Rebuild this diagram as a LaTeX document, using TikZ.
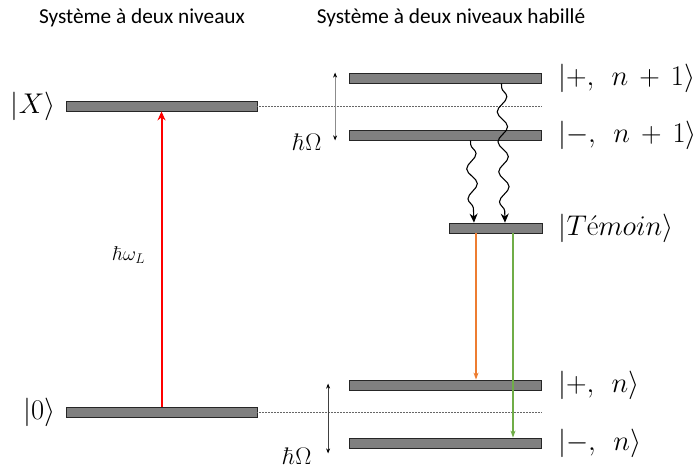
\RequirePackage{fix-cm}
\documentclass[tikz,border=0pt]{standalone}
\usepackage[no-math]{fontspec}
\setmainfont{Carlito}
\usetikzlibrary{positioning,decorations.pathmorphing,arrows.meta}
\definecolor{decayorange}{HTML}{ED7D31}
\definecolor{decaygreen}{HTML}{70AD47}
\definecolor{laserred}{HTML}{FF0000}
\newcommand{\wideket}{\medmuskip=7mu\relax\thickmuskip=8mu\relax}
\tikzset{
  level/.style={draw=black!85, fill=black!50, line width=0.8pt, minimum height=10pt, inner sep=0pt},
  ket/.style={font=\fontsize{28.5}{31}\selectfont\wideket, inner sep=0pt},
  title/.style={font=\fontsize{21.3}{24}\selectfont},
  gap/.style={draw=black!60, densely dotted, line width=0.5pt},
  split/.style={{Stealth[length=5pt,width=4pt,black]}-{Stealth[length=5pt,width=4pt,black]}, line width=0.6pt},
  wave/.style={-{Stealth[length=9pt,width=8pt]}, line width=1.1pt, decorate,
    decoration={snake, amplitude=5pt, segment length=30pt, pre length=4pt, post length=10pt}},
  decay/.style={-{Stealth[length=7pt,width=5pt]}, line width=1.4pt},
}
\begin{document}
\begin{tikzpicture}[x=1pt, y=-1pt]
\useasboundingbox (0,0) rectangle (696,470);

% Titles
\node[title] (title2) at (142,18) {Système à deux niveaux};
\node[title] (title3) at (451,18) {Système à deux niveaux habillé};

% Two-level system
\node[level, minimum width=191pt] (X) at (161.5,106) {};
\node[level, minimum width=191pt] (zero) at (161.5,412) {};
\node[ket, left=10pt of X] (Xket) {$|X\rangle$};
\node[ket, left=10pt of zero] (zeroket) {$|0\rangle$};

% Dressed system
\node[level, minimum width=192pt] (p1) at (445.5,78) {};
\node[level, minimum width=192pt] (m1) at (445.5,135) {};
\node[level, minimum width=93pt] (T) at (495.5,228) {};
\node[level, minimum width=192pt] (pn) at (445.5,385) {};
\node[level, minimum width=192pt] (mn) at (445.5,443) {};
\node[ket, right=16pt of p1] (p1ket) {$|{+},\;n+1\rangle$};
\node[ket, right=16pt of m1] (m1ket) {$|{-},\;n+1\rangle$};
\node[ket, right=16pt of T] (Tket) {$|T\acute{\mathrm{e}}moin\rangle$};
\node[ket, right=16pt of pn] (pnket) {$|{+},\;n\rangle$};
\node[ket, right=16pt of mn] (mnket) {$|{-},\;n\rangle$};

% Bare levels in dotted lines
\draw[gap] (X.east) -- (X.east -| p1.east);
\draw[gap] (zero.east) -- (zero.east -| pn.east);

% Laser
\draw[draw=laserred, line width=2pt, -{Stealth[length=9pt,width=8pt]}] (zero.north) -- (X.south);
\node[font=\fontsize{20}{22}\selectfont, inner sep=0pt] (laser) at (129,255) {$\hbar\omega_L$};

% Splittings
\draw[split, black!45] ([xshift=-14pt]p1.north west) -- ([xshift=-14pt]m1.south west);
\draw[split, black!75] ([xshift=-21pt,yshift=-4pt]pn.north west) -- ([xshift=-21pt,yshift=-5pt]mn.south west);
\node[font=\fontsize{24}{26}\selectfont, inner sep=0pt] (omega1) at (307,142) {$\hbar\Omega$};
\node[font=\fontsize{24}{26}\selectfont, inner sep=0pt] (omega2) at (297,456) {$\hbar\Omega$};

% Relaxation and emission
\draw[wave] ([xshift=56pt]p1.south) -- ([xshift=9.5pt]T.north);
\draw[wave] ([xshift=25pt]m1.south) -- ([xshift=-21.5pt]T.north);
\draw[decay, decayorange] ([xshift=-19.5pt]T.south) -- ([xshift=-19.5pt]T.south |- pn.north);
\draw[decay, decaygreen] ([xshift=17.5pt]T.south) -- ([xshift=17.5pt]T.south |- mn.north);
\end{tikzpicture}
\end{document}
